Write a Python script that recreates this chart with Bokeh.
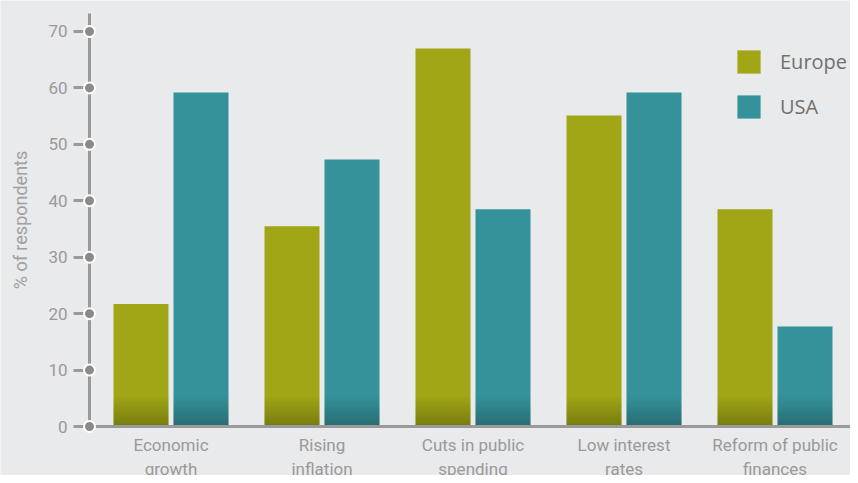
from bokeh.plotting import figure
from bokeh.models import LinearAxis, FixedTicker, Range1d, Legend, LegendItem
from bokeh.embed import file_html
from bokeh.resources import INLINE

categories = ["Economic\ngrowth", "Rising\ninflation", "Cuts in public\nspending",
              "Low interest\nrates", "Reform of public\nfinances"]
europe = [21.7, 35.5, 67.0, 55.1, 38.5]
usa = [59.2, 47.3, 38.5, 59.2, 17.7]
y_ticks = [0, 10, 20, 30, 40, 50, 60, 70]
series_names = ["Europe", "USA"]

BG = "#E9EAEC"
EU_COLOR = "#A0A616"
US_COLOR = "#35929A"
AXIS_COLOR = "#9A9A9A"
TEXT_COLOR = "#999999"

W, H = 850, 475
px_per_unit = 5.643
zero_y = 426
cat_px = 151.0
first_center = 170.5

x_start = -first_center / cat_px
x_end = (W - first_center) / cat_px
y_start = -(H - zero_y) / px_per_unit
y_end = zero_y / px_per_unit
axis_x = (89 - first_center) / cat_px
axis_top = (zero_y - 13) / px_per_unit

p = figure(width=W, height=H, output_backend="svg", toolbar_location=None,
           x_range=Range1d(x_start, x_end), y_range=Range1d(y_start, y_end),
           min_border=0, background_fill_color=BG, border_fill_color=BG,
           outline_line_color=None, x_axis_location=None, y_axis_location=None)
p.grid.visible = False

offset = 30 / cat_px
bw = 55 / cat_px
xs = list(range(len(categories)))
eu_x = [x - offset for x in xs]
us_x = [x + offset for x in xs]

r_eu = p.vbar(x=eu_x, top=europe, bottom=0, width=bw, fill_color=EU_COLOR, line_color=None)
r_us = p.vbar(x=us_x, top=usa, bottom=0, width=bw, fill_color=US_COLOR, line_color=None)

# bottom shading (gradient imitation)
n = 12
shade_h = 5.4
for i in range(n):
    b = shade_h * i / n
    t = shade_h * (i + 1) / n
    a = 0.26 * (1 - (i + 0.5) / n)
    p.vbar(x=eu_x + us_x, top=t, bottom=b, width=bw, fill_color="black",
           fill_alpha=a, line_color=None)

# x axis
xaxis = LinearAxis(fixed_location=0, bounds=(axis_x, x_end))
xaxis.ticker = FixedTicker(ticks=xs)
xaxis.major_label_overrides = {i: c for i, c in enumerate(categories)}
xaxis.axis_line_color = AXIS_COLOR
xaxis.axis_line_width = 3
xaxis.major_tick_line_color = None
xaxis.minor_tick_line_color = None
xaxis.major_tick_out = 0
xaxis.major_tick_in = 0
xaxis.major_label_standoff = 8
xaxis.major_label_text_font = "Roboto"
xaxis.major_label_text_font_size = "17px"
xaxis.major_label_text_color = TEXT_COLOR
p.add_layout(xaxis, "below")

# y axis
yaxis = LinearAxis(fixed_location=axis_x, bounds=(0, axis_top))
yaxis.ticker = FixedTicker(ticks=y_ticks)
yaxis.axis_line_color = AXIS_COLOR
yaxis.axis_line_width = 3
yaxis.major_tick_line_color = AXIS_COLOR
yaxis.major_tick_line_width = 3
yaxis.major_tick_out = 16
yaxis.major_tick_in = 0
yaxis.minor_tick_line_color = None
yaxis.major_label_standoff = 6
yaxis.major_label_text_font = "Roboto"
yaxis.major_label_text_font_size = "17px"
yaxis.major_label_text_color = TEXT_COLOR
yaxis.axis_label = "% of respondents"
yaxis.axis_label_text_font = "Roboto"
yaxis.axis_label_text_font_style = "normal"
yaxis.axis_label_text_font_size = "18px"
yaxis.axis_label_text_color = "#A0A0A0"
yaxis.axis_label_standoff = 14
p.add_layout(yaxis, "left")

# tick dots
p.scatter(x=[axis_x] * len(y_ticks), y=y_ticks, size=11, fill_color="#8A8A8A",
          line_color="white", line_width=2, level="overlay")

legend = Legend(items=[LegendItem(label=series_names[0], renderers=[r_eu]),
                       LegendItem(label=series_names[1], renderers=[r_us])],
                location=(734, H - 121), orientation="vertical",
                glyph_width=29, glyph_height=29, label_height=29,
                spacing=16, label_standoff=17, padding=0, margin=0,
                border_line_color=None, background_fill_alpha=0,
                label_text_font="Open Sans", label_text_font_size="20px",
                label_text_color="#707070")
p.add_layout(legend)

open("out.html", "w").write(file_html(p, INLINE))
